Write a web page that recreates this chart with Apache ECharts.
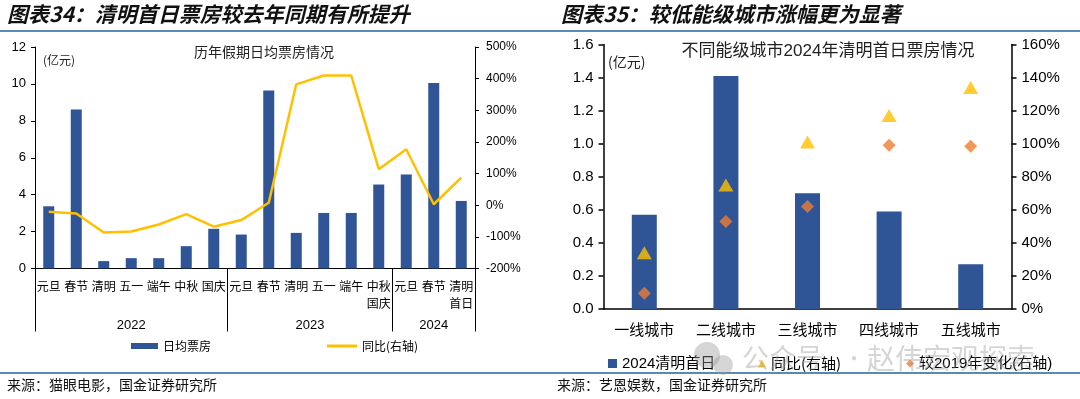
<!DOCTYPE html>
<html>
<head>
<meta charset="utf-8">
<script src="https://cdn.jsdelivr.net/npm/echarts@6/dist/echarts.min.js"></script>
<style>
html, body { margin: 0; padding: 0; background: #fff; }
#left { position: absolute; left: 0; top: 0; width: 540px; height: 399px; }
#right { position: absolute; left: 540px; top: 0; width: 540px; height: 399px; }
</style>
</head>
<body>
<div id="left"></div>
<div id="right"></div>
<script>
// 图表34 data
let holidays = ["元旦", "春节", "清明", "五一", "端午", "中秋", "国庆", "元旦", "春节", "清明", "五一", "端午", "中秋\n国庆", "元旦", "春节", "清明\n首日"];
let years = ["2022", "2023", "2024"];
let yearCounts = [7, 6, 3];
let boxOffice = [3.37, 8.61, 0.40, 0.56, 0.56, 1.21, 2.15, 1.84, 9.65, 1.93, 3.01, 3.01, 4.55, 5.09, 10.05, 3.66];
let yoy = [-21, -26, -86, -83, -61, -28, -68, -47, 8, 382, 410, 410, 114, 177, 3, 87];

// 图表35 data
let cities = ["一线城市", "二线城市", "三线城市", "四线城市", "五线城市"];
let cityBox = [0.57, 1.41, 0.70, 0.59, 0.27];
let cityYoy = [34, 75, 101, 117, 134];
let cityVs2019 = [9.5, 53, 62, 99, 98.5];

let NUM_FONT = "Liberation Sans, Arial, Noto Sans CJK SC";
let CJK_FONT = "Noto Sans CJK SC";
let BLUE = "#2F5597";
let RULE = "#5B8AB0";
let MARK = "rgba(150,150,150,0.4)";

let Left = function () {
	let myChart = echarts.init(document.getElementById("left"));

	// year boundaries / centres for the second level of the category axis
	let bounds = [0];
	yearCounts.forEach((c) => bounds.push(bounds[bounds.length - 1] + c));
	let centers = years.map((y, i) => (bounds[i] + bounds[i + 1]) / 2);

	let option = {
		animation: false,
		grid: { left: 35, top: 47, width: 440, height: 221.5 },
		xAxis: [
			{
				type: "category",
				data: holidays,
				axisLine: { onZero: false, lineStyle: { color: "#000", width: 1 } },
				axisTick: { interval: 0, length: 41, lineStyle: { color: "#000" } },
				axisLabel: {
					interval: 0,
					margin: 9,
					color: "#000",
					fontSize: 12,
					lineHeight: 17,
					fontFamily: CJK_FONT,
				},
			},
			{
				type: "value",
				min: 0,
				max: bounds[bounds.length - 1],
				position: "bottom",
				axisLine: { show: false },
				splitLine: { show: false },
				axisTick: { show: true, customValues: bounds, length: 63, lineStyle: { color: "#000" } },
				axisLabel: {
					customValues: centers,
					margin: 50,
					color: "#000",
					fontSize: 13,
					fontFamily: NUM_FONT,
					formatter: (v) => years[centers.indexOf(v)],
				},
			},
		],
		yAxis: [
			{
				type: "value",
				min: 0,
				max: 12,
				interval: 2,
				splitLine: { show: false },
				axisLine: { show: true, lineStyle: { color: "#000" } },
				axisTick: { show: true, length: 4, lineStyle: { color: "#000" } },
				axisLabel: { color: "#000", fontSize: 13, margin: 9, fontFamily: NUM_FONT },
			},
			{
				type: "value",
				min: -200,
				max: 500,
				interval: 100,
				position: "right",
				splitLine: { show: false },
				axisLine: { show: true, lineStyle: { color: "#000" } },
				axisTick: { show: true, length: 4, lineStyle: { color: "#000" } },
				axisLabel: { color: "#000", fontSize: 12, margin: 11, fontFamily: NUM_FONT, formatter: "{value}%" },
			},
		],
		legend: [
			{
				left: 126,
				top: 335,
				icon: "rect",
				itemWidth: 27,
				itemHeight: 6,
				textStyle: { fontSize: 12, color: "#000", fontFamily: CJK_FONT },
				data: ["日均票房"],
			},
			{
				left: 322,
				top: 335,
				icon: "rect",
				itemWidth: 30,
				itemHeight: 3,
				textStyle: { fontSize: 12, color: "#000", fontFamily: CJK_FONT },
				data: ["同比(右轴)"],
			},
		],
		graphic: [
			{
				type: "text",
				left: 7,
				top: 4,
				style: {
					text: "图表34：清明首日票房较去年同期有所提升",
					fontSize: 21,
					fontWeight: "bold",
					fontStyle: "italic",
					fontFamily: CJK_FONT,
					fill: "#111",
				},
			},
			{ type: "line", shape: { x1: 0, y1: 31, x2: 540, y2: 31 }, style: { stroke: RULE, lineWidth: 2 } },
			{
				type: "text",
				x: 264,
				y: 52,
				style: { text: "历年假期日均票房情况", fontSize: 14, fontFamily: CJK_FONT, fill: "#222", align: "center", verticalAlign: "middle" },
			},
			{
				type: "text",
				x: 43,
				y: 60,
				style: { text: "(亿元)", fontSize: 12, fontFamily: CJK_FONT, fill: "#222", verticalAlign: "middle" },
			},
			{ type: "line", shape: { x1: 0, y1: 373, x2: 540, y2: 373 }, style: { stroke: RULE, lineWidth: 2 } },
			{
				type: "text",
				x: 7,
				y: 385,
				style: { text: "来源：猫眼电影，国金证券研究所", fontSize: 14, fontFamily: CJK_FONT, fill: "#111", verticalAlign: "middle" },
			},
		],
		series: [
			{
				name: "日均票房",
				type: "bar",
				xAxisIndex: 0,
				yAxisIndex: 0,
				barWidth: 11,
				itemStyle: { color: BLUE },
				data: boxOffice,
			},
			{
				name: "同比(右轴)",
				type: "line",
				xAxisIndex: 0,
				yAxisIndex: 1,
				symbol: "none",
				itemStyle: { color: "#FFC000" },
				lineStyle: { color: "#FFC000", width: 2.5 },
				data: yoy,
			},
		],
	};

	myChart.setOption(option);
};

let Right = function () {
	let myChart = echarts.init(document.getElementById("right"));

	let option = {
		animation: false,
		grid: { left: 63.5, top: 44.5, width: 408, height: 264.5 },
		xAxis: [
			{
				type: "category",
				data: cities,
				axisLine: { onZero: false, lineStyle: { color: "#000", width: 1.5 } },
				axisTick: { length: 5, lineStyle: { color: "#000", width: 1.5 } },
				axisLabel: { interval: 0, margin: 13, color: "#000", fontSize: 15, fontFamily: CJK_FONT },
			},
		],
		yAxis: [
			{
				type: "value",
				min: 0,
				max: 1.6,
				interval: 0.2,
				splitLine: { show: false },
				axisLine: { show: true, lineStyle: { color: "#000", width: 1.5 } },
				axisTick: { show: true, length: 5, lineStyle: { color: "#000", width: 1.5 } },
				axisLabel: { color: "#000", fontSize: 15, margin: 10, fontFamily: NUM_FONT, formatter: (v) => v.toFixed(1) },
			},
			{
				type: "value",
				min: 0,
				max: 160,
				interval: 20,
				position: "right",
				splitLine: { show: false },
				axisLine: { show: true, lineStyle: { color: "#000", width: 1.5 } },
				axisTick: { show: true, length: 5, lineStyle: { color: "#000", width: 1.5 } },
				axisLabel: { color: "#000", fontSize: 15, margin: 10, fontFamily: NUM_FONT, formatter: "{value}%" },
			},
		],
		legend: [
			{
				left: 63,
				top: 351,
				icon: "rect",
				itemWidth: 9,
				itemHeight: 9,
				textStyle: { fontSize: 15, color: "#000", fontFamily: NUM_FONT },
				data: ["2024清明首日"],
			},
			{
				left: 213,
				top: 351,
				itemWidth: 8,
				itemHeight: 8,
				textStyle: { fontSize: 15, color: "#000", fontFamily: CJK_FONT },
				data: ["同比(右轴)"],
			},
			{
				left: 361,
				top: 351,
				itemWidth: 8,
				itemHeight: 8,
				textStyle: { fontSize: 15, color: "#000", fontFamily: NUM_FONT },
				data: ["较2019年变化(右轴)"],
			},
		],
		graphic: [
			{
				type: "text",
				left: 21,
				top: 4,
				style: {
					text: "图表35：较低能级城市涨幅更为显著",
					fontSize: 21,
					fontWeight: "bold",
					fontStyle: "italic",
					fontFamily: CJK_FONT,
					fill: "#111",
				},
			},
			{ type: "line", shape: { x1: 0, y1: 31, x2: 540, y2: 31 }, style: { stroke: RULE, lineWidth: 2 } },
			{
				type: "text",
				x: 288,
				y: 51,
				style: { text: "不同能级城市2024年清明首日票房情况", fontSize: 17, fontFamily: NUM_FONT, fill: "#222", align: "center", verticalAlign: "middle" },
			},
			{
				type: "text",
				x: 68,
				y: 62,
				style: { text: "(亿元)", fontSize: 14, fontFamily: CJK_FONT, fill: "#222", verticalAlign: "middle" },
			},
			{ type: "line", shape: { x1: 0, y1: 373, x2: 540, y2: 373 }, style: { stroke: RULE, lineWidth: 2 } },
			{
				type: "text",
				x: 17,
				y: 385,
				style: { text: "来源：艺恩娱数，国金证券研究所", fontSize: 14, fontFamily: CJK_FONT, fill: "#111", verticalAlign: "middle" },
			},
			// watermark
			{ type: "circle", z: 100, shape: { cx: 167, cy: 355, r: 13 }, style: { fill: MARK } },
			{ type: "circle", z: 100, shape: { cx: 183, cy: 365, r: 10 }, style: { fill: MARK } },
			{
				type: "text",
				z: 100,
				x: 202,
				y: 358,
				style: { text: "公众号", fontSize: 27, fontFamily: CJK_FONT, fill: MARK, verticalAlign: "middle" },
			},
			{
				type: "text",
				z: 100,
				x: 304,
				y: 358,
				style: { text: "·", fontSize: 20, fontFamily: CJK_FONT, fill: MARK, verticalAlign: "middle" },
			},
			{
				type: "text",
				z: 100,
				x: 327,
				y: 358,
				style: { text: "赵伟宏观探索", fontSize: 28, fontFamily: CJK_FONT, fill: MARK, verticalAlign: "middle" },
			},
		],
		series: [
			{
				name: "2024清明首日",
				type: "bar",
				xAxisIndex: 0,
				yAxisIndex: 0,
				barWidth: 25,
				itemStyle: { color: BLUE },
				data: cityBox,
			},
			{
				name: "同比(右轴)",
				type: "scatter",
				xAxisIndex: 0,
				yAxisIndex: 1,
				symbol: "triangle",
				symbolSize: [15, 13],
				itemStyle: { color: "#FFC000" },
				data: cityYoy,
			},
			{
				name: "较2019年变化(右轴)",
				type: "scatter",
				xAxisIndex: 0,
				yAxisIndex: 1,
				symbol: "diamond",
				symbolSize: [13, 13],
				itemStyle: { color: "#ED7D31" },
				data: cityVs2019,
			},
		],
	};

	myChart.setOption(option);
};

Left();
Right();
</script>
</body>
</html>
